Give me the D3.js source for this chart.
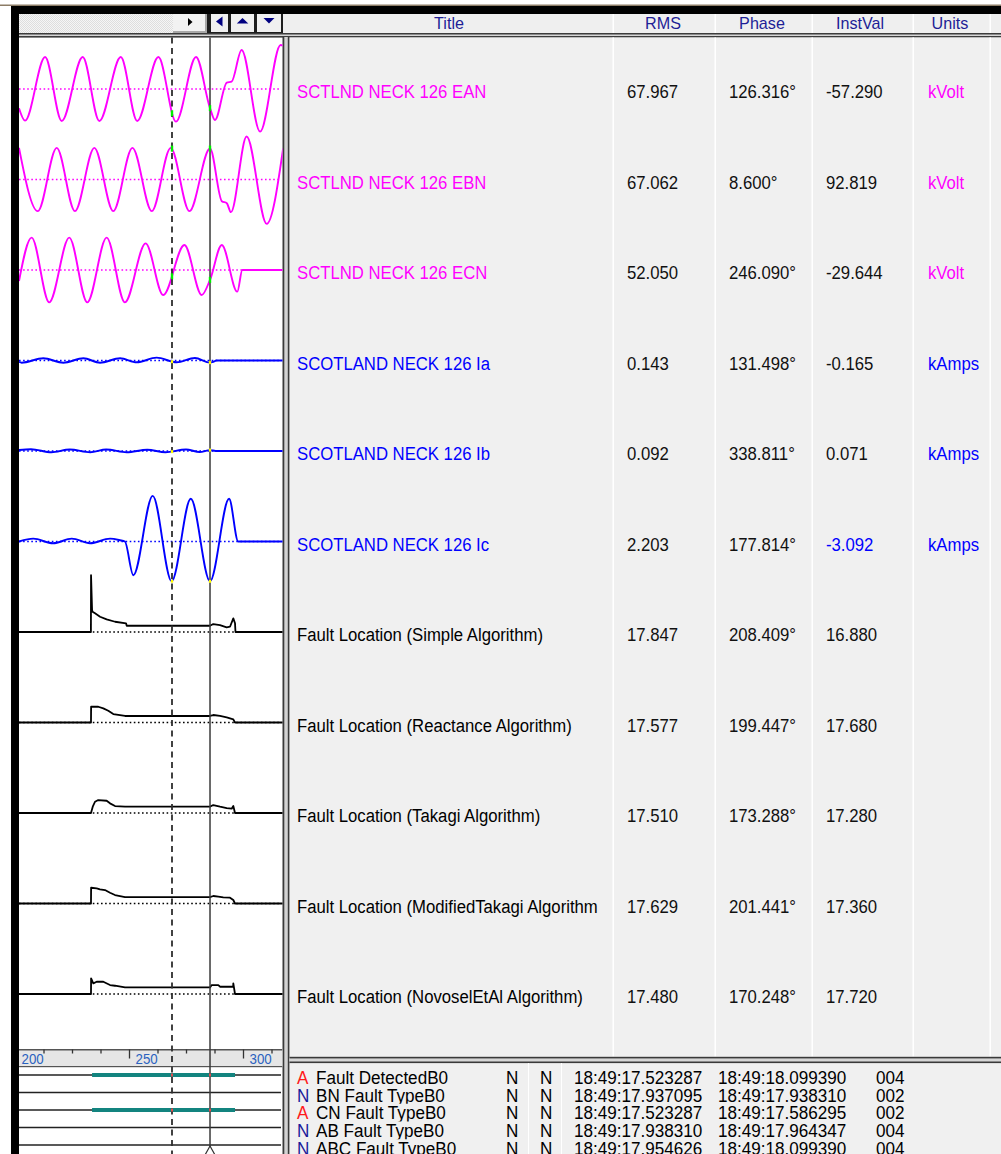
<!DOCTYPE html>
<html>
<head>
<meta charset="utf-8">
<script src="https://cdn.jsdelivr.net/npm/d3@7"></script>
<style>
  html, body { margin: 0; padding: 0; background: #ffffff; }
  svg { display: block; }
  text { font-family: "Liberation Sans", Arial, sans-serif; }
</style>
</head>
<body>
<svg id="chart" width="1001" height="1154"></svg>
<script>
// ---------------- channel table ----------------
const channelTitles = [
  "SCTLND NECK 126 EAN", "SCTLND NECK 126 EBN", "SCTLND NECK 126 ECN",
  "SCOTLAND NECK 126 Ia", "SCOTLAND NECK 126 Ib", "SCOTLAND NECK 126 Ic",
  "Fault Location (Simple Algorithm)", "Fault Location (Reactance Algorithm)",
  "Fault Location (Takagi Algorithm)", "Fault Location (ModifiedTakagi Algorithm",
  "Fault Location (NovoselEtAl Algorithm)"
];
const channelKinds = ["voltage", "voltage", "voltage", "current", "current", "current",
  "fault", "fault", "fault", "fault", "fault"];
const channelUnits = ["kVolt", "kVolt", "kVolt", "kAmps", "kAmps", "kAmps", "", "", "", "", ""];
const rmsValues   = [67.967, 67.062, 52.050, 0.143, 0.092, 2.203, 17.847, 17.577, 17.510, 17.629, 17.480];
const phaseValues = [126.316, 8.600, 246.090, 131.498, 338.811, 177.814, 208.409, 199.447, 173.288, 201.441, 170.248];
const instValues  = [-57.290, 92.819, -29.644, -0.165, 0.071, -3.092, 16.880, 17.680, 17.280, 17.360, 17.720];
// instantaneous readings shown in the channel colour (the faulted phase current)
const instHighlighted = [false, false, false, false, false, true, false, false, false, false, false];
const headerLabels = ["Title", "RMS", "Phase", "InstVal", "Units"];

// cursor times in ms: reference (dashed) and active (solid)
const cursorTimes = [268.86, 285.53];

// time axis ticks (ms)
const majorTicks = [200, 250, 300];
const minorTicks = [212.5, 225, 237.5, 262.5, 275, 287.5, 312.5];

// ---------------- sampled traces: [time ms, value] ----------------
const eanSamples = [[201.75,-58],[204.4,-95],[213.2,96],[220.5,-96],[229.7,96],[237.0,-96],[246.4,96],
  [253.6,-96],[262.9,96],[270.6,-98],[279.4,96],[287.7,-93],[292.9,19],[295.0,22],[299.4,117],
  [307.5,-128],[316.5,132],[317.6,130]];
const ebnSamples = [[201.75,95],[210.0,-95],[218.3,95],[226.3,-95],[234.8,95],[243.1,-95],[251.5,95],
  [260.0,-95],[268.3,95],[276.5,-95],[290.7,-65],[292.9,-71],[294.7,-98],[301.6,129],[310.4,-133],[317.6,93]];
const ecnSamples = [[201.75,-33],[207.3,97],[215.0,-97],[223.8,97],[231.7,-97],[240.2,97],[248.2,-97],
  [257.3,80],[265.0,-75],[274.3,75],[281.9,-75],[290.7,75],[297.5,-65],[299.7,0],[317.6,0]];
const iaSamples = [[201.75,-0.10],[202.9,-0.17],[212.4,0.17],[221.2,-0.17],[230.0,0.17],[237.3,-0.17],
  [246.1,0.17],[253.4,-0.14],[262.1,0.22],[270.9,-0.14],[278.9,0.20],[287.0,-0.10],[288.3,0],[317.6,0]];
const ibSamples = [[201.75,0.08],[207.0,0.14],[216.0,-0.10],[224.0,0.12],[233.0,-0.10],[240.0,0.12],
  [249.0,-0.10],[258.0,0.10],[266.0,-0.10],[275.0,0.12],[281.0,-0.08],[288.0,0],[317.6,0]];
const icSamples = [[201.75,0],[208.0,0.22],[216.7,-0.14],[224.9,0.22],[232.9,-0.14],[241.7,0.22],
  [246.0,0.10],[248.2,0.0],[251.9,-2.62],[260.4,3.55],[268.7,-3.09],[277.1,3.32],[293.9,3.32],
  [297.9,0],[317.6,0]];
const simpleSamples = [[201.75,0],[233.3,0],[233.35,154],[233.8,60],[234.0,55],[235.1,50.5],[237.3,41.4],
  [240.2,34.3],[243.9,27.8],[248.7,23.5],[249.0,16.88],[286.97,21.6],[289.9,18.9],[292.85,12.7],
  [294.3,14.3],[295.75,37],[296.5,23.5],[296.7,0],[317.6,0]];
const reactanceSamples = [[201.75,0],[233.33,0],[233.38,42.7],[236.53,42.7],[238.73,38.4],[240.92,31.9],
  [243.11,23],[248.25,17.68],[286.97,20.3],[289.91,17.68],[292.85,14.1],[295.75,8.6],[296.49,0],[317.6,0]];
const takagiSamples = [[201.75,0],[233.33,0],[234.1,17],[235.09,30.5],[236.53,35.1],[240.2,33.2],
  [241.67,26.2],[243.86,18.9],[248.25,17.28],[286.97,21.6],[289.91,17.28],[292.85,13.5],[295.04,11.6],
  [295.75,18.9],[296.49,0],[317.6,0]];
const modTakagiSamples = [[201.75,0],[233.33,0],[233.38,42.7],[235.83,41.1],[237.28,38.4],[239.47,36.5],
  [241.67,29.2],[243.86,23],[248.25,17.36],[286.97,20.3],[289.17,18.4],[291.36,16.8],[294.3,15.7],
  [295.75,9.5],[296.49,0],[317.6,0]];
const novoselSamples = [[201.75,0],[233.33,0],[233.38,42.4],[234.34,28.9],[235.83,33.2],[238.73,33.2],
  [241.67,24.3],[243.86,22.4],[248.25,17.72],[286.27,24.3],[289.17,24.3],[289.91,19.7],[295.7,19.7],
  [295.75,28.9],[296.49,0],[317.6,0]];
const channelSamples = [eanSamples, ebnSamples, ecnSamples, iaSamples, ibSamples, icSamples,
  simpleSamples, reactanceSamples, takagiSamples, modTakagiSamples, novoselSamples];

// ---------------- digital channels / event list ----------------
const digitalFlags = ["A", "N", "A", "N", "N"];
const digitalNames = ["Fault DetectedB0", "BN Fault TypeB0", "CN Fault TypeB0", "AB Fault TypeB0", "ABC Fault TypeB0"];
const digitalColA = ["N", "N", "N", "N", "N"];
const digitalColB = ["N", "N", "N", "N", "N"];
const digitalStart = ["18:49:17.523287", "18:49:17.937095", "18:49:17.523287", "18:49:17.938310", "18:49:17.954626"];
const digitalEnd = ["18:49:18.099390", "18:49:17.938310", "18:49:17.586295", "18:49:17.964347", "18:49:18.099390"];
const digitalCodes = ["004", "002", "002", "004", "004"];
const digitalActive = [[233.8, 296.5], null, [233.8, 296.5], null, null];

// ---------------- layout ----------------
const plotL = 19, plotR = 282.5, plotT = 38, plotB = 1049;
const rowPitch = 90.5, firstBase = 89, firstTextBase = 98.3;
const fullScale = { voltage: 135, current: 3.5, fault: 122 };
const traceColour = { voltage: "#ff00ff", current: "#0000ff", fault: "#000000" };
const markColour = { voltage: "#00ee00", current: "#ffff00", fault: "#c8c8c8" };
const colX = { title: 297, rms: 627, phase: 729, inst: 826, units: 928 };
const headerCentres = [449, 663, 762, 860, 950];
const tableLines = [613, 715, 812, 913, 990];
const FONT = 19, SX = 0.88;

const svg = d3.select("#chart");
const x = d3.scaleLinear().domain([200, 300]).range([15, 243]);
const locale = d3.formatLocale({ decimal: ".", thousands: ",", grouping: [3], currency: ["", ""], minus: "-" });
const fmt3 = locale.format(".3f");

const defs = svg.append("defs");
defs.append("clipPath").attr("id", "plotClip")
  .append("rect").attr("x", plotL).attr("y", plotT).attr("width", plotR - plotL).attr("height", 1154 - plotT);
const hatch = defs.append("pattern").attr("id", "hatch").attr("width", 2).attr("height", 2)
  .attr("patternUnits", "userSpaceOnUse");
hatch.append("rect").attr("width", 2).attr("height", 2).attr("fill", "#f6f6f6");
hatch.append("rect").attr("width", 1).attr("height", 1).attr("fill", "#dedede");
hatch.append("rect").attr("x", 1).attr("y", 1).attr("width", 1).attr("height", 1).attr("fill", "#dedede");

// window frame
svg.append("rect").attr("width", 1001).attr("height", 1154).attr("fill", "#ffffff");
svg.append("rect").attr("x", 0).attr("y", 4.5).attr("width", 1001).attr("height", 1.5).attr("fill", "#8c7c66");
svg.append("rect").attr("x", 11).attr("y", 6).attr("width", 990).attr("height", 8).attr("fill", "#000");
svg.append("rect").attr("x", 11).attr("y", 6).attr("width", 8).attr("height", 1148).attr("fill", "#000");

// header strip
svg.append("rect").attr("x", 19).attr("y", 14).attr("width", 982).attr("height", 20).attr("fill", "#efefef");
svg.append("rect").attr("x", 19).attr("y", 14).attr("width", 154).attr("height", 19).attr("fill", "url(#hatch)");

// play button
svg.append("rect").attr("x", 173).attr("y", 14).attr("width", 34).attr("height", 19).attr("fill", "#f2f2f2");
svg.append("rect").attr("x", 173).attr("y", 31).attr("width", 34).attr("height", 2).attr("fill", "#a8a8a8");
svg.append("rect").attr("x", 205).attr("y", 14).attr("width", 2).attr("height", 19).attr("fill", "#a8a8a8");
svg.append("path").attr("d", "M188,18L188,26L192.5,22Z").attr("fill", "#000");

// navigation buttons
svg.append("rect").attr("x", 207).attr("y", 14).attr("width", 76).attr("height", 20).attr("fill", "#1e1e1e");
[[211, 17], [231, 23], [257, 24]].forEach(([bx, bw]) => {
  svg.append("rect").attr("x", bx).attr("y", 14).attr("width", bw).attr("height", 18).attr("fill", "#f0f0f0");
});
svg.append("path").attr("d", "M222.5,16.5L222.5,26.5L216,21.5Z").attr("fill", "#000080");
svg.append("path").attr("d", "M236.8,23.5L248.3,23.5L242.5,18Z").attr("fill", "#000080");
svg.append("path").attr("d", "M263.5,18L274.5,18L269,23.5Z").attr("fill", "#000080");

// header double rule
svg.append("rect").attr("x", 19).attr("y", 33).attr("width", 982).attr("height", 5).attr("fill", "#d6d6d6");
svg.append("rect").attr("x", 19).attr("y", 33).attr("width", 982).attr("height", 1.5).attr("fill", "#3c3c3c");
svg.append("rect").attr("x", 19).attr("y", 36).attr("width", 982).attr("height", 1.5).attr("fill", "#3c3c3c");

// table background, plot divider
svg.append("rect").attr("x", 289).attr("y", 37.5).attr("width", 712).attr("height", 1117).attr("fill", "#f0f0f0");
svg.append("rect").attr("x", 283).attr("y", 37).attr("width", 6).attr("height", 1117).attr("fill", "#d2d2d2");
svg.append("rect").attr("x", 282.5).attr("y", 37).attr("width", 1.8).attr("height", 1117).attr("fill", "#3a3a3a");
svg.append("rect").attr("x", 287.8).attr("y", 37).attr("width", 1.6).attr("height", 1117).attr("fill", "#3a3a3a");

// table column rules
tableLines.forEach(lx => {
  svg.append("rect").attr("x", lx - 0.5).attr("y", 14).attr("width", 1.5).attr("height", 19).attr("fill", "#ffffff");
  svg.append("rect").attr("x", lx - 0.5).attr("y", 37.5).attr("width", 1.5).attr("height", 1019).attr("fill", "#ffffff");
});

// lower double rule of the table
svg.append("rect").attr("x", 289.4).attr("y", 1057).attr("width", 712).attr("height", 6).attr("fill", "#d6d6d6");
svg.append("rect").attr("x", 289.4).attr("y", 1056.8).attr("width", 712).attr("height", 1.6).attr("fill", "#3a3a3a");
svg.append("rect").attr("x", 289.4).attr("y", 1061.5).attr("width", 712).attr("height", 1.6).attr("fill", "#3a3a3a");
[528, 561].forEach(lx => {
  svg.append("rect").attr("x", lx).attr("y", 1063).attr("width", 1).attr("height", 91).attr("fill", "#ffffff");
});

// ---------------- analog traces ----------------
const plot = svg.append("g").attr("clip-path", "url(#plotClip)");
const tracePaths = [];
channelSamples.forEach((samples, i) => {
  const kind = channelKinds[i];
  const base = firstBase + rowPitch * i;
  const y = d3.scaleLinear().domain([-fullScale[kind], fullScale[kind]]).range([base + 45, base - 45]);
  const data = samples.concat([[cursorTimes[1], instValues[i]]]).sort((a, b) => a[0] - b[0]);
  const line = d3.line().x(d => x(d[0])).y(d => y(d[1]))
    .curve(kind === "fault" ? d3.curveLinear : d3.curveMonotoneX);
  plot.append("line")
    .attr("x1", plotL).attr("x2", 281).attr("y1", y(0)).attr("y2", y(0))
    .attr("stroke", traceColour[kind]).attr("stroke-width", 1.3).attr("stroke-dasharray", "1.6,2.5");
  const p = plot.append("path").datum(data).attr("d", line)
    .attr("fill", "none").attr("stroke", traceColour[kind])
    .attr("stroke-width", kind === "fault" ? 1.8 : 1.9).attr("stroke-linejoin", "round");
  tracePaths.push({ node: p.node(), kind });
});

// ---------------- time axis strip ----------------
const axisTop = 1049.5;
const axisG = svg.append("g").attr("clip-path", "url(#plotClip)");
axisG.append("rect").attr("x", plotL).attr("y", axisTop).attr("width", plotR - plotL).attr("height", 17).attr("fill", "#e6e6e6");
axisG.append("rect").attr("x", plotL).attr("y", axisTop - 0.5).attr("width", plotR - plotL).attr("height", 1.5).attr("fill", "#555");
axisG.append("rect").attr("x", plotL).attr("y", axisTop + 16.5).attr("width", plotR - plotL).attr("height", 1.2).attr("fill", "#555");
const minorAxis = d3.axisBottom(x).tickValues(minorTicks).tickSize(4).tickFormat("");
const majorAxis = d3.axisBottom(x).tickValues(majorTicks).tickSize(9).tickFormat(d3.format("d"));
const gMinor = axisG.append("g").attr("transform", `translate(0,${axisTop})`).call(minorAxis);
const gMajor = axisG.append("g").attr("transform", `translate(0,${axisTop})`).call(majorAxis);
[gMinor, gMajor].forEach(g => {
  g.select(".domain").remove();
  g.selectAll(".tick line").attr("stroke", "#333").attr("stroke-width", 1.3);
});
gMajor.selectAll(".tick text")
  .attr("x", 0).attr("y", 0).attr("dy", null)
  .attr("text-anchor", "start")
  .attr("transform", "translate(6,14.5) scale(0.95,1)")
  .attr("fill", "#2a62c0").style("font-size", "14px").style("font-family", "'Liberation Sans', Arial, sans-serif");

// ---------------- digital channels ----------------
const digiBase = 1075, digiPitch = 17.5;
digitalNames.forEach((name, j) => {
  const dy = digiBase + digiPitch * j;
  axisG.append("line").attr("x1", plotL).attr("x2", 281).attr("y1", dy).attr("y2", dy)
    .attr("stroke", "#222").attr("stroke-width", 1.5);
  const on = digitalActive[j];
  if (on) {
    axisG.append("line").attr("x1", x(on[0])).attr("x2", x(on[1])).attr("y1", dy).attr("y2", dy)
      .attr("stroke", "#13847f").attr("stroke-width", 4);
  }
});

// ---------------- cursors ----------------
const cursorG = svg.append("g");
cursorG.append("line").attr("x1", x(cursorTimes[0])).attr("x2", x(cursorTimes[0]))
  .attr("y1", 37.5).attr("y2", 1154).attr("stroke", "#2e2e2e").attr("stroke-width", 1.8)
  .attr("stroke-dasharray", "6,4.5");
cursorG.append("line").attr("x1", x(cursorTimes[1])).attr("x2", x(cursorTimes[1]))
  .attr("y1", 37.5).attr("y2", 1154).attr("stroke", "#3a3a3a").attr("stroke-width", 1.5);

function yOnPath(node, px) {
  let lo = 0, hi = node.getTotalLength();
  for (let k = 0; k < 40; k++) {
    const mid = (lo + hi) / 2;
    if (node.getPointAtLength(mid).x < px) lo = mid; else hi = mid;
  }
  return node.getPointAtLength((lo + hi) / 2).y;
}
tracePaths.forEach(({ node, kind }) => {
  if (kind === "fault") return;
  cursorTimes.forEach(ct => {
    const cx = x(ct), cy = yOnPath(node, cx);
    cursorG.append("rect").attr("x", cx - 1.2).attr("y", cy - (kind === "voltage" ? 3 : 1.5))
      .attr("width", 2.4).attr("height", kind === "voltage" ? 6 : 3).attr("fill", markColour[kind]);
  });
});
digitalActive.forEach((on, j) => {
  if (!on) return;
  const dy = digiBase + digiPitch * j;
  cursorTimes.forEach(ct => {
    cursorG.append("rect").attr("x", x(ct) - 1).attr("y", dy - 1.5).attr("width", 2).attr("height", 3).attr("fill", "#e05050");
  });
});
cursorG.append("path")
  .attr("d", `M${x(cursorTimes[1])},1146L${x(cursorTimes[1]) - 5},1155L${x(cursorTimes[1]) + 5},1155Z`)
  .attr("fill", "#fff").attr("stroke", "#333").attr("stroke-width", 1.2);

// ---------------- header and table text ----------------
function addText(g, str, tx, ty, opts) {
  const o = Object.assign({ size: FONT, sx: SX, fill: "#000", anchor: "start" }, opts || {});
  return g.append("text").text(str)
    .attr("transform", `translate(${tx},${ty}) scale(${o.sx},1)`)
    .attr("text-anchor", o.anchor).attr("fill", o.fill).style("font-size", o.size + "px");
}
const textG = svg.append("g");
headerLabels.forEach((lab, k) => addText(textG, lab, headerCentres[k], 28.6, { size: 17, sx: 0.95, anchor: "middle", fill: "#1e1e96" }));

defs.append("clipPath").attr("id", "titleClip")
  .append("rect").attr("x", 290).attr("y", 38).attr("width", 322).attr("height", 1018);
const titleG = svg.append("g").attr("clip-path", "url(#titleClip)");
channelTitles.forEach((t, i) => {
  const ty = firstTextBase + rowPitch * i;
  const kind = channelKinds[i];
  addText(titleG, t, colX.title, ty, { fill: traceColour[kind] });
  addText(textG, fmt3(rmsValues[i]), colX.rms, ty, { fill: "#111" });
  addText(textG, fmt3(phaseValues[i]) + "°", colX.phase, ty, { fill: "#111" });
  addText(textG, fmt3(instValues[i]), colX.inst, ty, { fill: instHighlighted[i] ? traceColour[kind] : "#111" });
  if (channelUnits[i]) addText(textG, channelUnits[i], colX.units, ty, { fill: traceColour[kind] });
});

// ---------------- event list ----------------
const listBase = 1084, listPitch = 17.65;
digitalNames.forEach((name, j) => {
  const ty = listBase + listPitch * j;
  defs.append("clipPath").attr("id", "rowClip" + j)
    .append("rect").attr("x", 290).attr("y", ty - 15).attr("width", 711).attr("height", 17.2);
  const rg = svg.append("g").attr("clip-path", `url(#rowClip${j})`);
  const o = { sx: 0.9 };
  addText(rg, digitalFlags[j], 297, ty, Object.assign({ fill: digitalFlags[j] === "A" ? "#ff1a1a" : "#1a1a9a" }, o));
  addText(rg, name, 316, ty, o);
  addText(rg, digitalColA[j], 506, ty, o);
  addText(rg, digitalColB[j], 540, ty, o);
  addText(rg, digitalStart[j], 574, ty, o);
  addText(rg, digitalEnd[j], 718, ty, o);
  addText(rg, digitalCodes[j], 876, ty, o);
});
</script>
</body>
</html>
